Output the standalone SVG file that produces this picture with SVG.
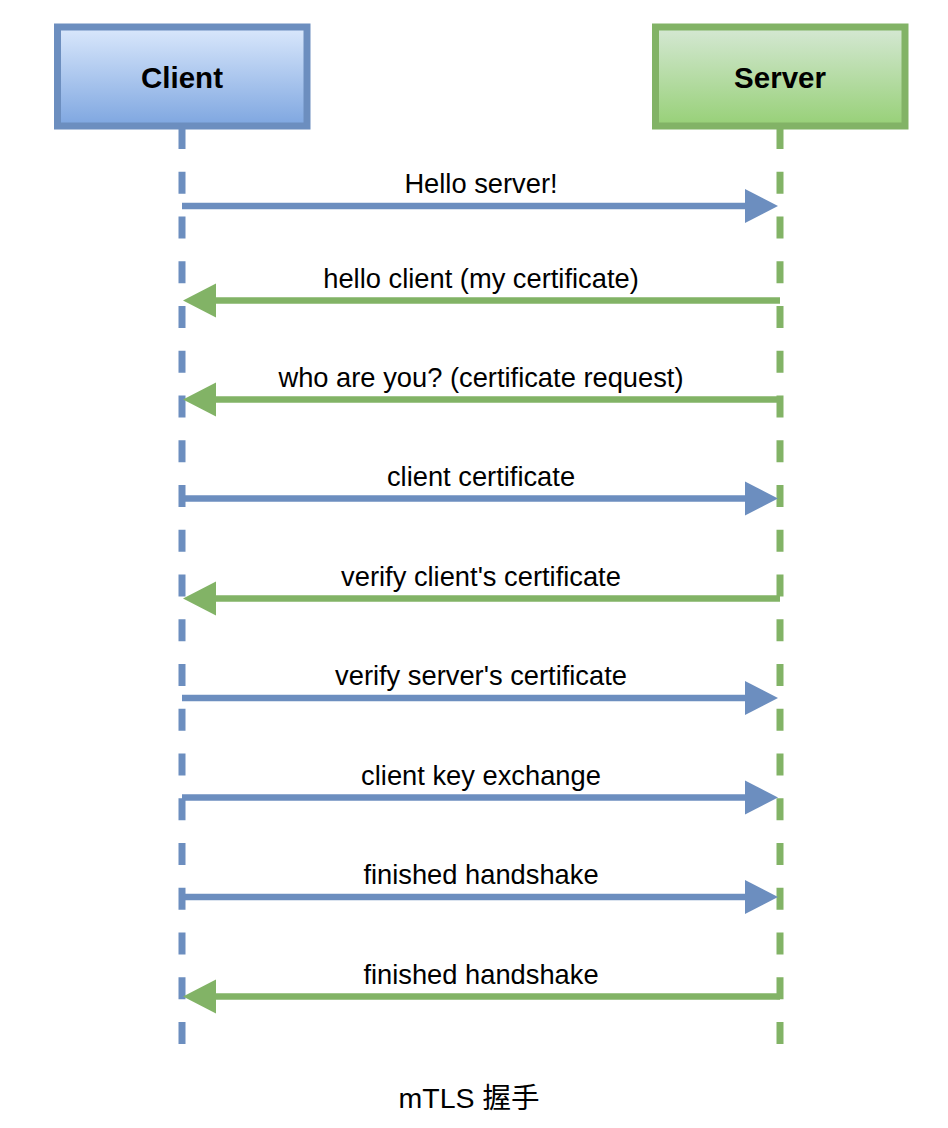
<svg xmlns="http://www.w3.org/2000/svg" width="948" height="1128" viewBox="0 0 948 1128">
<defs>
<linearGradient id="gBlue" x1="0" y1="0" x2="0" y2="1"><stop offset="0" stop-color="#dae8fc"/><stop offset="1" stop-color="#7ea6e0"/></linearGradient>
<linearGradient id="gGreen" x1="0" y1="0" x2="0" y2="1"><stop offset="0" stop-color="#d5e8d4"/><stop offset="1" stop-color="#97d077"/></linearGradient>
</defs>
<style>
.title{font-family:"Liberation Sans",Arial,sans-serif;font-size:29.5px;font-weight:bold;fill:#000;text-anchor:middle}
.lbl{font-family:"Liberation Sans",Arial,sans-serif;font-size:27.3px;fill:#000;text-anchor:middle}
.cap{font-family:"Liberation Sans","Noto Sans CJK SC",sans-serif;font-size:28.5px;fill:#000;text-anchor:middle}
.life{stroke-width:7;stroke-dasharray:22 22.75;fill:none}
.b{stroke:#6c8ebf}
.g{stroke:#82b366}
.msg{stroke-width:6.5;fill:none}
.hb{fill:#6c8ebf}
.hg{fill:#82b366}
</style>
<g id="lifelines">
<line class="life b" x1="182" y1="127" x2="182" y2="1044"/>
<line class="life g" x1="780" y1="127" x2="780" y2="1044"/>
</g>
<g id="client">
<rect x="57.5" y="27" width="249.5" height="99" fill="url(#gBlue)" stroke="#6c8ebf" stroke-width="7"/>
<text class="title" x="182" y="88">Client</text>
</g>
<g id="server">
<rect x="655.5" y="27" width="249.5" height="99" fill="url(#gGreen)" stroke="#82b366" stroke-width="7"/>
<text class="title" x="780" y="88">Server</text>
</g>
<g id="connectors">
<line class="msg b" x1="182" y1="206" x2="748" y2="206"/><polygon class="hb" points="745,189 778,206 745,223"/>
<line class="msg g" x1="780" y1="300.5" x2="214" y2="300.5"/><polygon class="hg" points="216,283.5 183,300.5 216,317.5"/>
<line class="msg g" x1="780" y1="399.5" x2="214" y2="399.5"/><polygon class="hg" points="216,382.5 183,399.5 216,416.5"/>
<line class="msg b" x1="182" y1="498.5" x2="748" y2="498.5"/><polygon class="hb" points="745,481.5 778,498.5 745,515.5"/>
<line class="msg g" x1="780" y1="598.5" x2="214" y2="598.5"/><polygon class="hg" points="216,581.5 183,598.5 216,615.5"/>
<line class="msg b" x1="182" y1="698" x2="748" y2="698"/><polygon class="hb" points="745,681 778,698 745,715"/>
<line class="msg b" x1="182" y1="797.5" x2="748" y2="797.5"/><polygon class="hb" points="745,780.5 778,797.5 745,814.5"/>
<line class="msg b" x1="182" y1="897" x2="748" y2="897"/><polygon class="hb" points="745,880 778,897 745,914"/>
<line class="msg g" x1="780" y1="996.5" x2="214" y2="996.5"/><polygon class="hg" points="216,979.5 183,996.5 216,1013.5"/>
</g>
<g id="labels">
<text class="lbl" x="481" y="193">Hello server!</text>
<text class="lbl" x="481" y="287.5">hello client (my certificate)</text>
<text class="lbl" x="481" y="386.5">who are you? (certificate request)</text>
<text class="lbl" x="481" y="485.5">client certificate</text>
<text class="lbl" x="481" y="585.5">verify client's certificate</text>
<text class="lbl" x="481" y="685">verify server's certificate</text>
<text class="lbl" x="481" y="784.5">client key exchange</text>
<text class="lbl" x="481" y="884">finished handshake</text>
<text class="lbl" x="481" y="983.5">finished handshake</text>
</g>
<g id="caption">
<text class="cap" x="469" y="1108">mTLS 握手</text>
</g>
</svg>
